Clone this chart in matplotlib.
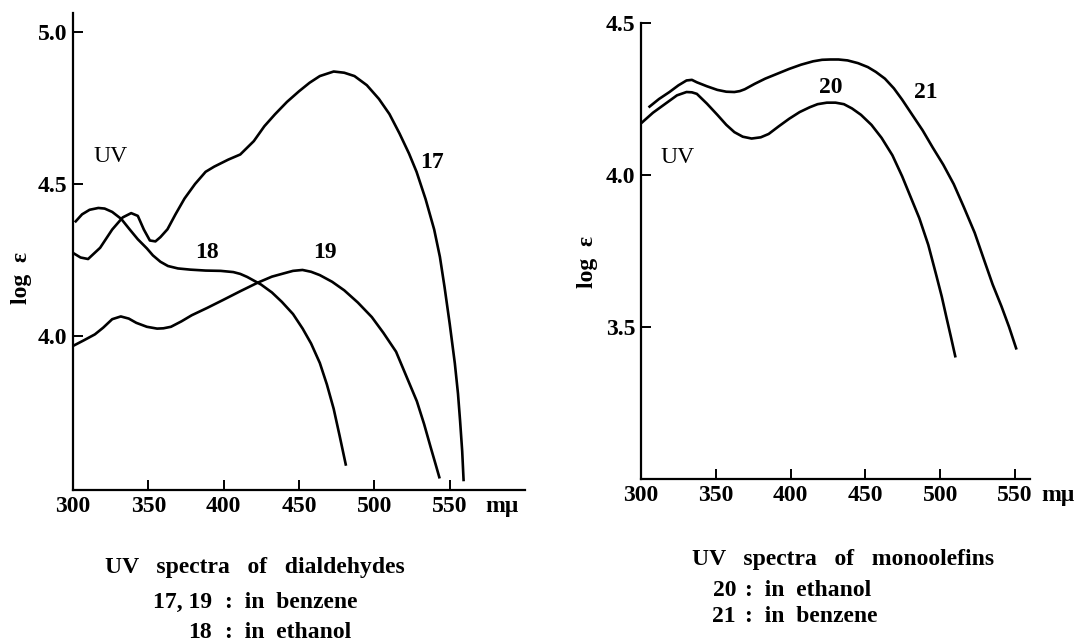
import matplotlib
matplotlib.use("Agg")
import matplotlib.pyplot as plt

# left panel: dialdehydes (wavelength in m\u03bc, log eps)
x17 = [300, 305, 310, 318, 326, 333, 338.6, 343, 347, 351, 354.7, 358, 362.7, 368, 374,
       381, 388, 393.7, 403, 411, 420, 427, 434, 442, 450, 457, 463.8, 473, 480, 486.8,
       495, 503, 510, 516.7, 523, 528, 534, 539.7, 543.5, 546.6, 550, 553.4, 555.5,
       556.9, 558.3, 559.2]
y17 = [4.273, 4.258, 4.253, 4.29, 4.35, 4.39, 4.404, 4.395, 4.35, 4.314, 4.311, 4.325,
       4.351, 4.40, 4.452, 4.50, 4.54, 4.557, 4.58, 4.597, 4.641, 4.69, 4.729, 4.77,
       4.805, 4.833, 4.855, 4.870, 4.866, 4.855, 4.825, 4.78, 4.73, 4.666, 4.60, 4.54,
       4.45, 4.35, 4.26, 4.16, 4.04, 3.91, 3.81, 3.72, 3.62, 3.526]

x18 = [301.8, 306, 311, 316.8, 321, 326, 332, 337.5, 343, 349, 353, 358, 363, 369.6,
       378, 388, 398, 406.4, 411, 415.6, 424.8, 432, 438.6, 446, 452.4, 458, 463.8,
       468.5, 473, 477, 481]
y18 = [4.377, 4.40, 4.415, 4.421, 4.419, 4.408, 4.385, 4.351, 4.318, 4.288, 4.265,
       4.244, 4.230, 4.222, 4.218, 4.215, 4.214, 4.21, 4.204, 4.194, 4.169, 4.143,
       4.112, 4.072, 4.024, 3.975, 3.911, 3.84, 3.76, 3.67, 3.577]

x19 = [300, 307, 314.5, 320, 326, 331.7, 337, 342, 349, 355.8, 360, 365, 372, 378.8,
       389, 399.5, 411, 422.5, 432, 440.8, 446, 452.3, 458, 463.8, 472, 480, 489,
       498.3, 506, 514.4, 521, 528.2, 533, 537.4, 540.5, 543.1]
y19 = [3.967, 3.985, 4.005, 4.027, 4.055, 4.064, 4.057, 4.043, 4.03, 4.024, 4.025,
       4.03, 4.048, 4.068, 4.092, 4.118, 4.147, 4.175, 4.195, 4.207, 4.214, 4.217,
       4.211, 4.2, 4.178, 4.15, 4.11, 4.062, 4.01, 3.948, 3.87, 3.785, 3.71, 3.633,
       3.58, 3.535]

# right panel: monoolefins
x20 = [300.7, 308, 316.7, 324, 330.4, 334, 337.3, 344, 351, 357, 362.4, 368, 373.9,
       380, 385.3, 392, 399, 406, 412.8, 418, 424.2, 430, 435.6, 441, 447, 454, 460.8,
       468, 474.5, 480, 486, 492, 497.4, 501, 504.2, 507, 510]
y20 = [4.173, 4.205, 4.236, 4.262, 4.273, 4.272, 4.267, 4.235, 4.198, 4.165, 4.141,
       4.126, 4.12, 4.124, 4.135, 4.16, 4.185, 4.207, 4.223, 4.233, 4.238, 4.238,
       4.233, 4.219, 4.198, 4.165, 4.122, 4.065, 3.996, 3.93, 3.858, 3.77, 3.669,
       3.6, 3.53, 3.47, 3.404]

x21 = [305.7, 312, 319, 325, 330.4, 334, 337.3, 344, 351, 357, 362.4, 366, 369.3, 376,
       383, 391, 399, 407, 415, 421, 426.5, 432, 438, 445, 451.6, 457, 463, 469,
       474.5, 481, 488.2, 495, 502, 509, 515.7, 523, 529.4, 535, 540.9, 546, 550.7]
y21 = [4.225, 4.25, 4.273, 4.295, 4.311, 4.313, 4.305, 4.292, 4.28, 4.274, 4.273,
       4.276, 4.282, 4.30, 4.317, 4.333, 4.349, 4.363, 4.374, 4.379, 4.38, 4.38,
       4.377, 4.368, 4.355, 4.339, 4.317, 4.285, 4.248, 4.2, 4.147, 4.09, 4.034,
       3.97, 3.895, 3.81, 3.719, 3.64, 3.568, 3.50, 3.43]

left_xticks = [300, 350, 400, 450, 500, 550]
left_yticks = [4.0, 4.5, 5.0]
right_xticks = [300, 350, 400, 450, 500, 550]
right_yticks = [3.5, 4.0, 4.5]

FONT = "Liberation Serif"


def style_axes(ax, xticks, yticks):
    for side in ("top", "right"):
        ax.spines[side].set_visible(False)
    for side in ("left", "bottom"):
        ax.spines[side].set_linewidth(1.6)
    ax.set_xticks(xticks)
    ax.set_yticks(yticks)
    ax.set_xticklabels([str(t) for t in xticks])
    ax.set_yticklabels(["%.1f" % t for t in yticks])
    ax.tick_params(direction="in", length=7, width=1.4, pad=4,
                   labelsize=17)
    for lab in ax.get_xticklabels() + ax.get_yticklabels():
        lab.set_fontfamily(FONT)
        lab.set_fontweight("bold")


def main():
    fig = plt.figure(figsize=(10.77, 6.41), dpi=100)
    lw = 1.9

    # left panel
    ax1 = fig.add_axes([0.0678, 0.2356, 0.4197, 0.7441])
    ax1.plot(x17, y17, color="black", lw=lw)
    ax1.plot(x18, y18, color="black", lw=lw)
    ax1.plot(x19, y19, color="black", lw=lw)
    ax1.set_xlim(300, 600)
    ax1.set_ylim(3.493, 5.0625)
    style_axes(ax1, left_xticks, left_yticks)
    ax1.text(324.8, 4.59, "UV", fontsize=17, family=FONT, ha="center", va="center")
    ax1.text(538.5, 4.572, "17", fontsize=17, family=FONT, weight="bold",
             ha="center", va="center")
    ax1.text(389, 4.276, "18", fontsize=17, family=FONT, weight="bold",
             ha="center", va="center")
    ax1.text(467, 4.276, "19", fontsize=17, family=FONT, weight="bold",
             ha="center", va="center")
    ax1.annotate("m\u03bc", xy=(585, 0), xycoords=("data", "axes fraction"),
                 xytext=(0, -4), textcoords="offset points", ha="center", va="top",
                 fontsize=17, family=FONT, weight="bold", annotation_clip=False)

    # right panel
    ax2 = fig.add_axes([0.5952, 0.2527, 0.3612, 0.7114])
    ax2.plot(x20, y20, color="black", lw=lw)
    ax2.plot(x21, y21, color="black", lw=lw)
    ax2.set_xlim(300, 560)
    ax2.set_ylim(3.0, 4.5)
    style_axes(ax2, right_xticks, right_yticks)
    ax2.text(324.7, 4.059, "UV", fontsize=17, family=FONT, ha="center", va="center")
    ax2.text(426.5, 4.288, "20", fontsize=17, family=FONT, weight="bold",
             ha="center", va="center")
    ax2.text(490.5, 4.27, "21", fontsize=17, family=FONT, weight="bold",
             ha="center", va="center")
    ax2.annotate("m\u03bc", xy=(578.6, 0), xycoords=("data", "axes fraction"),
                 xytext=(0, -4), textcoords="offset points", ha="center", va="top",
                 fontsize=17, family=FONT, weight="bold", annotation_clip=False)

    # y labels
    fig.text(21 / 1077, 1 - 278 / 641, "log  \u03b5", rotation=90, fontsize=17,
             family=FONT, weight="bold", ha="center", va="center")
    fig.text(588 / 1077, 1 - 262 / 641, "log  \u03b5", rotation=90, fontsize=17,
             family=FONT, weight="bold", ha="center", va="center")

    # captions
    cap = dict(fontsize=17, family=FONT, weight="bold", va="center")
    fig.text(105 / 1077, 1 - 568 / 641, "UV   spectra   of   dialdehydes", ha="left", **cap)
    fig.text(212 / 1077, 1 - 602 / 641, "17, 19", ha="right", **cap)
    fig.text(225 / 1077, 1 - 602 / 641, ":  in  benzene", ha="left", **cap)
    fig.text(212 / 1077, 1 - 632 / 641, "18", ha="right", **cap)
    fig.text(225 / 1077, 1 - 632 / 641, ":  in  ethanol", ha="left", **cap)

    fig.text(692 / 1077, 1 - 559 / 641, "UV   spectra   of   monoolefins", ha="left", **cap)
    fig.text(736 / 1077, 1 - 591 / 641, "20", ha="right", **cap)
    fig.text(745 / 1077, 1 - 591 / 641, ":  in  ethanol", ha="left", **cap)
    fig.text(736 / 1077, 1 - 616 / 641, "21", ha="right", **cap)
    fig.text(745 / 1077, 1 - 616 / 641, ":  in  benzene", ha="left", **cap)

    fig.savefig("out.png", dpi=100, facecolor="white")


if __name__ == "__main__":
    main()
